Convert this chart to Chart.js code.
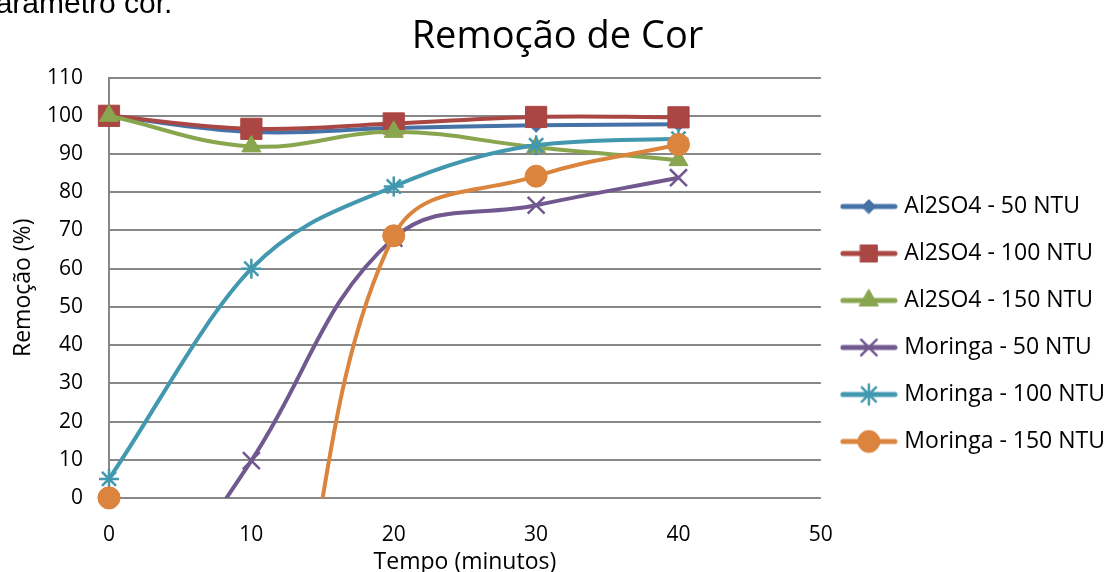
<!DOCTYPE html>
<html>
<head>
<meta charset="utf-8">
<script src="https://cdn.jsdelivr.net/npm/chart.js@4.4.1/dist/chart.umd.min.js"></script>
<style>
  html, body { margin: 0; padding: 0; background: #fff; }
  #wrap { position: relative; width: 1115px; height: 572px; overflow: hidden; }
  #above { position: absolute; left: -21px; top: -12px; font: 30px "Liberation Sans", Arial, sans-serif; line-height: 30px; color: #000; white-space: nowrap; }
  canvas { position: absolute; left: 0; top: 0; }
</style>
</head>
<body>
<div id="wrap">
  <canvas id="chart_remocaoCor" width="1115" height="572"></canvas>
  <div id="above">parâmetro cor.</div>
</div>
<script>
// tempo (minutos)
var tempo = [0, 10, 20, 30, 40];

// remoção de cor (%) - valores negativos ficam abaixo do eixo (cortados)
var al2so4_50 = [100, 95.8, 96.8, 97.5, 97.8];
var al2so4_100 = [100, 96.6, 98, 99.7, 99.6];
var al2so4_150 = [100, 92, 95.8, 91.8, 88.4];
var moringa_50 = [-45, 9.8, 68, 76.6, 83.8];
var moringa_100 = [5, 60, 81.5, 92.3, 94];
var moringa_150 = [0, -65, 68.6, 84.2, 92.5];

var seriesNames = ['Al2SO4 - 50 NTU', 'Al2SO4 - 100 NTU', 'Al2SO4 - 150 NTU', 'Moringa - 50 NTU', 'Moringa - 100 NTU', 'Moringa - 150 NTU'];
var seriesValues = [al2so4_50, al2so4_100, al2so4_150, moringa_50, moringa_100, moringa_150];

var xTicks = [0, 10, 20, 30, 40, 50];
var yTicks = [0, 10, 20, 30, 40, 50, 60, 70, 80, 90, 100, 110];

var colors = ['#4572a7', '#aa4643', '#89a54e', '#71588f', '#4198af', '#db843d'];
var markers = [
    { style: 'rectRot', radius: 7, border: 1 },
    { style: 'rect', radius: 15, border: 1 },
    { style: 'triangle', radius: 11, border: 1 },
    { style: 'crossRot', radius: 12, border: 2.5 },
    { style: 'star', radius: 10, border: 2.5 },
    { style: 'circle', radius: 11, border: 1 }
];
var curveMode = ['default', 'default', 'default', 'default', 'monotone', 'default'];

function legendIcon(i) {
    var c = document.createElement('canvas');
    c.width = 58;
    c.height = 26;
    var ctx = c.getContext('2d');
    ctx.strokeStyle = colors[i];
    ctx.lineWidth = 5;
    ctx.lineCap = 'round';
    ctx.beginPath();
    ctx.moveTo(3, 13);
    ctx.lineTo(55, 13);
    ctx.stroke();
    ctx.fillStyle = colors[i];
    ctx.lineWidth = markers[i].border;
    var r = markers[i].radius;
    if (markers[i].style === 'rect') r = 12;
    if (markers[i].style === 'crossRot') r = 11;
    Chart.helpers.drawPoint(ctx, { pointStyle: markers[i].style, radius: r, rotation: 0, borderWidth: markers[i].border }, 29, 13);
    return c;
}

var font = "'Open Sans', 'Noto Sans', sans-serif";

function buildChart() {
    var datasets = seriesValues.map(function(values, i) {
        return {
            label: seriesNames[i],
            data: values.map(function(v, j) { return { x: tempo[j], y: v }; }),
            borderColor: colors[i],
            backgroundColor: colors[i],
            borderWidth: 4,
            tension: 0.4,
            cubicInterpolationMode: curveMode[i],
            pointStyle: markers[i].style,
            pointRadius: markers[i].radius,
            pointBorderWidth: markers[i].border,
            pointBorderColor: colors[i],
            pointBackgroundColor: colors[i],
            order: 6 - i,
            clip: { left: false, top: false, right: false, bottom: 0 }
        };
    });

    return new Chart(document.getElementById('chart_remocaoCor'), {
        type: 'line',
        data: { datasets: datasets },
        options: {
            animation: false,
            responsive: false,
            layout: { padding: { left: 0, right: 0, top: 0, bottom: 0 } },
            plugins: {
                title: {
                    display: true,
                    text: 'Remoção de Cor',
                    color: '#000',
                    font: { family: font, size: 38, weight: 'normal' },
                    padding: { top: 14, bottom: 18 }
                },
                legend: {
                    display: true,
                    position: 'right',
                    align: 'center',
                    maxWidth: 320,
                    title: {
                        display: true,
                        text: ' ',
                        color: '#000',
                        font: { family: font, size: 10 },
                        padding: { top: 32, bottom: 32 }
                    },
                    labels: {
                        color: '#000',
                        font: { family: font, size: 23 },
                        usePointStyle: true,
                        pointStyleWidth: 48,
                        padding: 24,
                        generateLabels: function(chart) {
                            return chart.data.datasets.map(function(ds, i) {
                                return {
                                    text: ds.label,
                                    fontColor: '#000',
                                    pointStyle: legendIcon(i),
                                    fillStyle: colors[i],
                                    strokeStyle: colors[i],
                                    lineWidth: 0,
                                    hidden: false,
                                    datasetIndex: i
                                };
                            });
                        }
                    }
                },
                tooltip: { enabled: false }
            },
            scales: {
                x: {
                    type: 'linear',
                    min: 0,
                    max: 50,
                    afterBuildTicks: function(scale) {
                        scale.ticks = xTicks.map(function(v) { return { value: v }; });
                    },
                    afterFit: function(scale) { scale.height = 74; },
                    grid: { display: false, drawTicks: false },
                    border: { display: false },
                    ticks: {
                        color: '#000',
                        font: { family: font, size: 21 },
                        padding: 24,
                        maxRotation: 0
                    },
                    title: {
                        display: true,
                        text: 'Tempo (minutos)',
                        color: '#000',
                        font: { family: font, size: 23 },
                        padding: { top: 0, bottom: -4 }
                    }
                },
                y: {
                    type: 'linear',
                    min: 0,
                    max: 110,
                    afterBuildTicks: function(scale) {
                        scale.ticks = yTicks.map(function(v) { return { value: v }; });
                    },
                    afterFit: function(scale) { scale.width = 109; },
                    grid: { color: '#878787', lineWidth: 2, drawTicks: false },
                    border: { display: true, color: '#878787', width: 2 },
                    ticks: {
                        color: '#000',
                        font: { family: font, size: 21 },
                        padding: 26
                    },
                    title: {
                        display: true,
                        text: 'Remoção (%)',
                        color: '#000',
                        font: { family: font, size: 23 },
                        padding: { top: 10, bottom: 0 }
                    }
                }
            }
        },
        plugins: [{
            id: 'whiteBackground',
            beforeDraw: function(chart) {
                var ctx = chart.canvas.getContext('2d');
                ctx.save();
                ctx.globalCompositeOperation = 'destination-over';
                ctx.fillStyle = 'white';
                ctx.fillRect(0, 0, chart.canvas.width, chart.canvas.height);
                ctx.restore();
            }
        }, {
            // markers sitting on the axis are not cut in half by the bottom clip
            id: 'unclippedMarkers',
            afterDatasetsDraw: function(chart) {
                var ctx = chart.ctx;
                var metas = chart.getSortedVisibleDatasetMetas().slice().reverse();
                metas.forEach(function(meta) {
                    meta.data.forEach(function(pt, j) {
                        var v = chart.data.datasets[meta.index].data[j].y;
                        if (v >= 0 && v < 3) pt.draw(ctx, chart.chartArea);
                    });
                });
            }
        }]
    });
}

var chart_remocaoCor;
var fontLoads = [
    document.fonts.load("23px 'Open Sans'"),
    document.fonts.load("38px 'Open Sans'"),
    document.fonts.load("21px 'Open Sans'"),
    document.fonts.load("30px 'Liberation Sans'")
];
Promise.all(fontLoads).then(function() {
    chart_remocaoCor = buildChart();
}, function() {
    chart_remocaoCor = buildChart();
});
</script>
</body>
</html>
